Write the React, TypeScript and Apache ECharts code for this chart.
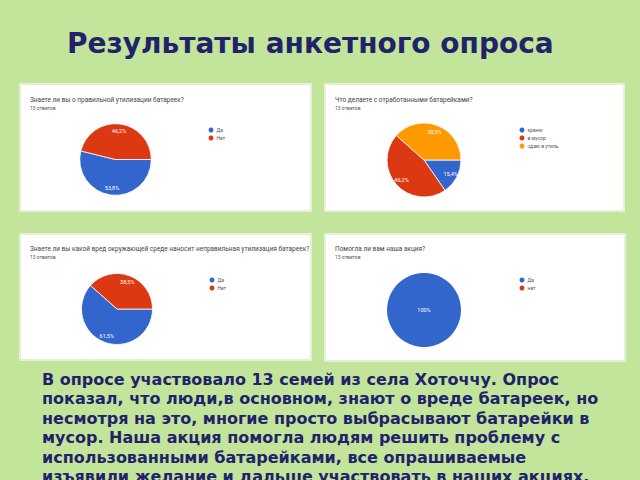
import React, { useEffect, useRef } from "react";
import * as echarts from "echarts";

const BLUE = "#3366cc";
const RED = "#dc3912";
const ORANGE = "#ff9900";

const pageTitle = "Результаты анкетного опроса";

const q1Title = "Знаете ли вы о правильной утилизации батареек?";
const q1Names = ["Да", "Нет"];
const q1Values = [7, 6];

const q2Title = "Что делаете с отработанными батарейками?";
const q2Names = ["храню", "в мусор", "сдаю в утиль"];
const q2Values = [2, 6, 5];

const q3Title =
  "Знаете ли вы какой вред окружающей среде наносит неправильная утилизация батареек?";
const q3Names = ["Да", "Нет"];
const q3Values = [8, 5];

const q4Title = "Помогла ли вам наша акция?";
const q4Names = ["Да", "нет"];
const q4Values = [13, 0];

const answersLabel = "13 ответов";

const bodyLines = [
  "В опросе участвовало 13 семей из села Хоточчу. Опрос",
  "показал, что люди,в основном, знают о вреде батареек, но",
  "несмотря на это, многие просто выбрасывают батарейки в",
  "мусор. Наша акция помогла людям решить проблему с",
  "использованными батарейками, все опрашиваемые",
  "изъявили желание и дальше участвовать в наших акциях.",
];

const palette3 = [BLUE, RED, ORANGE];

function pct(values: number[], v: number): string {
  const sum = values.reduce((a, b) => a + b, 0);
  const p = (v / sum) * 100;
  if (v === 0) return "";
  if (Math.abs(p - 100) < 1e-9) return "100%";
  return p.toFixed(1).replace(".", ",") + "%";
}

function makeData(names: string[], values: number[], transparent = false) {
  return names.map((n, i) => ({
    name: n,
    value: values[i],
    itemStyle: { color: transparent ? "rgba(0,0,0,0)" : palette3[i] },
  }));
}

function mainPie(names: string[], values: number[], center: number[], r: number, single = false) {
  return {
    type: "pie",
    center,
    radius: r,
    startAngle: 0,
    clockwise: true,
    silent: true,
    avoidLabelOverlap: false,
    data: makeData(names, values),
    itemStyle: single
      ? { borderWidth: 0 }
      : { borderColor: "#ffffff", borderWidth: 0.8 },
    label: single
      ? {
          show: true,
          position: "center",
          color: "#ffffff",
          fontSize: 5.5,
          fontFamily: "Roboto",
          formatter: (p: any) => pct(values, p.value),
        }
      : { show: false },
    labelLine: { show: false },
    emphasis: { disabled: true },
  };
}

function labelPie(names: string[], values: number[], center: number[], r: number) {
  return {
    type: "pie",
    center,
    radius: [r * 0.46, r],
    startAngle: 0,
    clockwise: true,
    silent: true,
    z: 5,
    avoidLabelOverlap: false,
    data: makeData(names, values, true),
    itemStyle: { borderWidth: 0 },
    label: {
      show: true,
      position: "inside",
      color: "#ffffff",
      fontSize: 5.5,
      fontFamily: "Roboto",
      formatter: (p: any) => pct(values, p.value),
    },
    labelLine: { show: false },
    emphasis: { disabled: true },
  };
}

function legendAt(left: number, top: number, names: string[]) {
  return {
    left,
    top,
    orient: "vertical",
    icon: "circle",
    itemWidth: 5,
    itemHeight: 5,
    itemGap: 3,
    selectedMode: false,
    data: names,
    itemStyle: { borderWidth: 0 },
    textStyle: { fontSize: 5, color: "#555555", fontFamily: "Roboto", padding: [0, 0, 0, -2] },
  };
}

function panel(x: number, y: number, w: number, h: number, title: string, ty: number) {
  return [
    {
      type: "rect",
      shape: { x, y, width: w, height: h },
      style: { fill: "#ffffff", stroke: "#e3f2d6", lineWidth: 2 },
      z: 1,
    },
    {
      type: "text",
      x: x + 10,
      y: ty,
      style: {
        text: title,
        fill: "#444444",
        fontSize: 6.5,
        fontFamily: "Roboto",
        textVerticalAlign: "middle",
      },
      z: 2,
    },
    {
      type: "text",
      x: x + 10,
      y: ty + 7.5,
      style: {
        text: answersLabel,
        fill: "#555555",
        fontSize: 5,
        fontFamily: "Roboto",
        textVerticalAlign: "middle",
      },
      z: 2,
    },
  ];
}

export default function App() {
  const ref = useRef<HTMLDivElement>(null);
  useEffect(() => {
    if (!ref.current) return;
    const chart = echarts.init(ref.current, null, { renderer: "svg" });
    const graphics: any[] = [
      ...panel(20, 84, 291, 127, q1Title, 100),
      ...panel(325, 84, 299, 127, q2Title, 100),
      ...panel(20, 234, 291, 126, q3Title, 249),
      ...panel(325, 234, 300, 127, q4Title, 249),
      {
        type: "text",
        x: 67,
        y: 43,
        style: {
          text: pageTitle,
          fill: "#22226a",
          fontSize: 28,
          fontWeight: "bold",
          fontFamily: "DejaVu Sans",
          textVerticalAlign: "middle",
        },
        z: 2,
      },
      ...bodyLines.map((line, i) => ({
        type: "text",
        x: 42,
        y: 379 + i * 19.5,
        style: {
          text: line,
          fill: "#22226a",
          fontSize: 16,
          fontWeight: "bold",
          fontFamily: "DejaVu Sans",
          textVerticalAlign: "middle",
        },
        z: 2,
      })),
    ];
    chart.setOption({
      animation: false,
      backgroundColor: "#c2e49b",
      graphic: { elements: graphics },
      legend: [
        legendAt(203.5, 122.5, q1Names),
        legendAt(514.5, 122.5, q2Names),
        legendAt(204.5, 272.5, q3Names),
        legendAt(514.5, 272.5, q4Names),
      ],
      series: [
        mainPie(q1Names, q1Values, [115.5, 159.5], 35.8),
        mainPie(q2Names, q2Values, [424, 160], 37),
        mainPie(q3Names, q3Values, [117, 309], 35.5),
        mainPie(q4Names, q4Values, [424, 310], 37, true),
        labelPie(q1Names, q1Values, [115.5, 159.5], 35.8),
        labelPie(q2Names, q2Values, [424, 160], 37),
        labelPie(q3Names, q3Values, [117, 309], 35.5),
      ],
    });
    return () => chart.dispose();
  }, []);
  return (
    <div
      ref={ref}
      style={{ position: "absolute", left: 0, top: 0, width: 640, height: 480 }}
    />
  );
}
